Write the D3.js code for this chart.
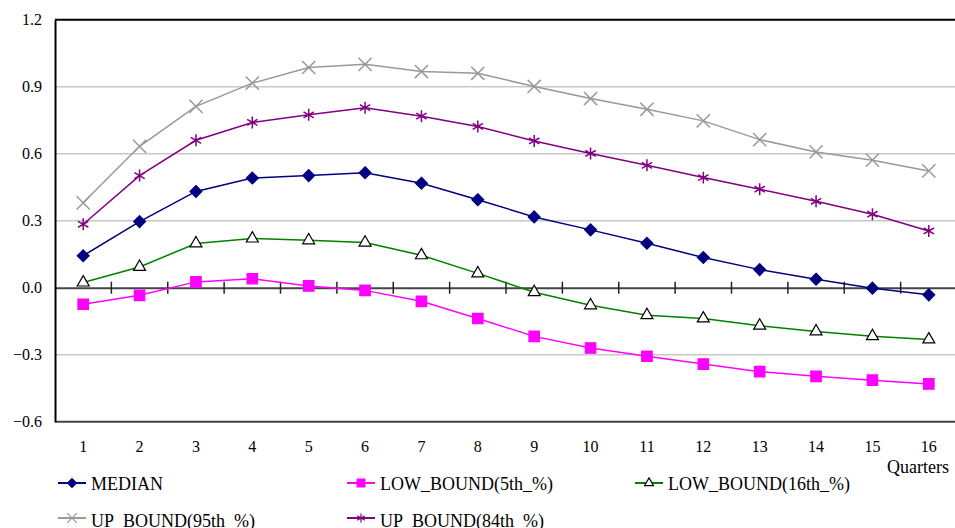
<!DOCTYPE html>
<html>
<head>
    <meta charset="utf-8" />
    <title>Quarters</title>
    <style>
        body { margin: 0; background: #fff; }
        svg text { font-family: "Liberation Serif", "DejaVu Serif", serif !important; fill: #000; }
    </style>
</head>
<body>
<script src="https://d3js.org/d3.v7.min.js"></script>
<script>
    // values
    var quarters = ["1","2","3","4","5","6","7","8","9","10","11","12","13","14","15","16"];
    var median   = [0.143, 0.296, 0.431, 0.491, 0.502, 0.515, 0.468, 0.394, 0.317, 0.259, 0.199, 0.135, 0.081, 0.038, -0.002, -0.032];
    var low5     = [-0.074, -0.034, 0.026, 0.040, 0.008, -0.012, -0.061, -0.138, -0.218, -0.270, -0.307, -0.342, -0.376, -0.397, -0.414, -0.431];
    var low16    = [0.023, 0.093, 0.198, 0.220, 0.212, 0.202, 0.145, 0.064, -0.020, -0.079, -0.123, -0.138, -0.170, -0.196, -0.217, -0.232];
    var up95     = [0.380, 0.633, 0.812, 0.916, 0.986, 1.000, 0.968, 0.960, 0.901, 0.847, 0.799, 0.747, 0.663, 0.608, 0.571, 0.523];
    var up84     = [0.284, 0.502, 0.660, 0.740, 0.774, 0.806, 0.768, 0.722, 0.657, 0.601, 0.548, 0.493, 0.441, 0.387, 0.329, 0.254];
    var yTicks   = [-0.6, -0.3, 0.0, 0.3, 0.6, 0.9, 1.2];

    var series = [
        {name: "MEDIAN",            values: median, color: "#000080", symbol: d3.symbolDiamond2, size: 90,  fill: "#000080", stroke: "#000080"},
        {name: "LOW_BOUND(5th_%)",  values: low5,   color: "#ff00ff", symbol: d3.symbolSquare,   size: 110, fill: "#ff00ff", stroke: "#ff00ff"},
        {name: "LOW_BOUND(16th_%)", values: low16,  color: "#008000", symbol: d3.symbolTriangle, size: 62,  fill: "#fff",    stroke: "#000"},
        {name: "UP_BOUND(95th_%)",  values: up95,   color: "#999999", symbol: d3.symbolX,        size: 115, fill: "none",    stroke: "#999999"},
        {name: "UP_BOUND(84th_%)",  values: up84,   color: "#800080", symbol: d3.symbolAsterisk, size: 100, fill: "none",    stroke: "#800080"}
    ];

    var serif = "'Liberation Serif', 'DejaVu Serif', serif";
    var width = 955, height = 528;
    var plot = {left: 55, right: 957, top: 19.7, bottom: 421.7};

    var svg = d3.select("body").append("svg")
                .attr("width", width)
                .attr("height", height)
                .attr("font-family", serif);

    var x = d3.scaleBand().domain(quarters).range([plot.left, plot.right]).padding(0);
    var y = d3.scaleLinear().domain([-0.6, 1.2]).range([plot.bottom, plot.top]);
    var cx = d => x(d) + x.bandwidth() / 2;

    // gridlines
    svg.append("g")
       .selectAll("line")
       .data(yTicks.filter(t => t !== 0 && t !== -0.6 && t !== 1.2))
       .enter().append("line")
       .attr("x1", plot.left).attr("x2", plot.right)
       .attr("y1", d => y(d)).attr("y2", d => y(d))
       .attr("stroke", "#c8c8c8")
       .attr("stroke-width", 1.5);

    // frame: top and left black, bottom dark grey
    svg.append("line")
       .attr("x1", plot.left).attr("x2", plot.right)
       .attr("y1", plot.top).attr("y2", plot.top)
       .attr("stroke", "#000").attr("stroke-width", 2);
    svg.append("line")
       .attr("x1", plot.left).attr("x2", plot.right)
       .attr("y1", plot.bottom).attr("y2", plot.bottom)
       .attr("stroke", "#444").attr("stroke-width", 2);

    // zero line with category ticks
    var zeroAxis = d3.axisBottom(x).tickSize(0).tickFormat("");
    svg.append("g")
       .attr("transform", "translate(0," + y(0) + ")")
       .call(zeroAxis)
       .call(g => g.select(".domain").attr("stroke", "#444").attr("stroke-width", 2));
    svg.append("g")
       .selectAll("line")
       .data(quarters.slice(1))
       .enter().append("line")
       .attr("x1", d => x(d)).attr("x2", d => x(d))
       .attr("y1", y(0) - 6).attr("y2", y(0) + 6)
       .attr("stroke", "#222").attr("stroke-width", 1.5);

    // left axis
    var yAxis = d3.axisLeft(y).tickValues(yTicks).tickSize(0).tickPadding(13).tickFormat(d3.format(".1f"));
    svg.append("g")
       .attr("transform", "translate(" + plot.left + ",0)")
       .call(yAxis)
       .attr("font-family", serif)
       .call(g => g.select(".domain").attr("stroke", "#000").attr("stroke-width", 2))
       .call(g => g.selectAll("text").style("font-family", serif).style("font-size", "16px").attr("dy", "0.33em"));

    // category labels
    svg.append("g")
       .selectAll("text")
       .data(quarters)
       .enter().append("text")
       .attr("x", d => cx(d))
       .attr("y", 452)
       .attr("text-anchor", "middle")
       .style("font-family", serif)
       .style("font-size", "16px")
       .text(d => d);

    svg.append("text")
       .attr("x", 949).attr("y", 473)
       .attr("text-anchor", "end")
       .style("font-family", serif)
       .style("font-size", "18px")
       .text("Quarters");

    // lines and markers
    var line = d3.line().x((d, i) => cx(quarters[i])).y(d => y(d));

    series.forEach(function(s) {
        svg.append("path")
           .datum(s.values)
           .attr("d", line)
           .attr("fill", "none")
           .attr("stroke", s.color)
           .attr("stroke-width", 1.5);
        svg.append("g")
           .selectAll("path")
           .data(s.values)
           .enter().append("path")
           .attr("transform", (d, i) => "translate(" + cx(quarters[i]) + "," + y(d) + ")")
           .attr("d", d3.symbol().type(s.symbol).size(s.size))
           .attr("fill", s.fill)
           .attr("stroke", s.stroke)
           .attr("stroke-width", s.fill === "none" ? 1.5 : 1.2);
    });

    // legend (second row sits on the bottom edge, as in the original)
    var legendPos = [[58, 483, 6.5], [347, 483, 6.5], [635, 483, 6.5], [58, 518, 8.5], [347, 518, 8.5]];
    series.forEach(function(s, i) {
        var p = legendPos[i];
        var g = svg.append("g").attr("transform", "translate(" + p[0] + "," + p[1] + ")");
        g.append("line")
         .attr("x1", 0).attr("x2", 28)
         .attr("y1", 0).attr("y2", 0)
         .attr("stroke", s.color)
         .attr("stroke-width", 2);
        g.append("path")
         .attr("transform", "translate(14,0)")
         .attr("d", d3.symbol().type(s.symbol).size(s.size * 0.55))
         .attr("fill", s.fill)
         .attr("stroke", s.stroke)
         .attr("stroke-width", 1.2);
        g.append("text")
         .attr("x", 33)
         .attr("y", p[2])
         .style("font-family", serif)
         .style("font-size", "18px")
         .text(s.name);
    });
</script>
</body>
</html>
